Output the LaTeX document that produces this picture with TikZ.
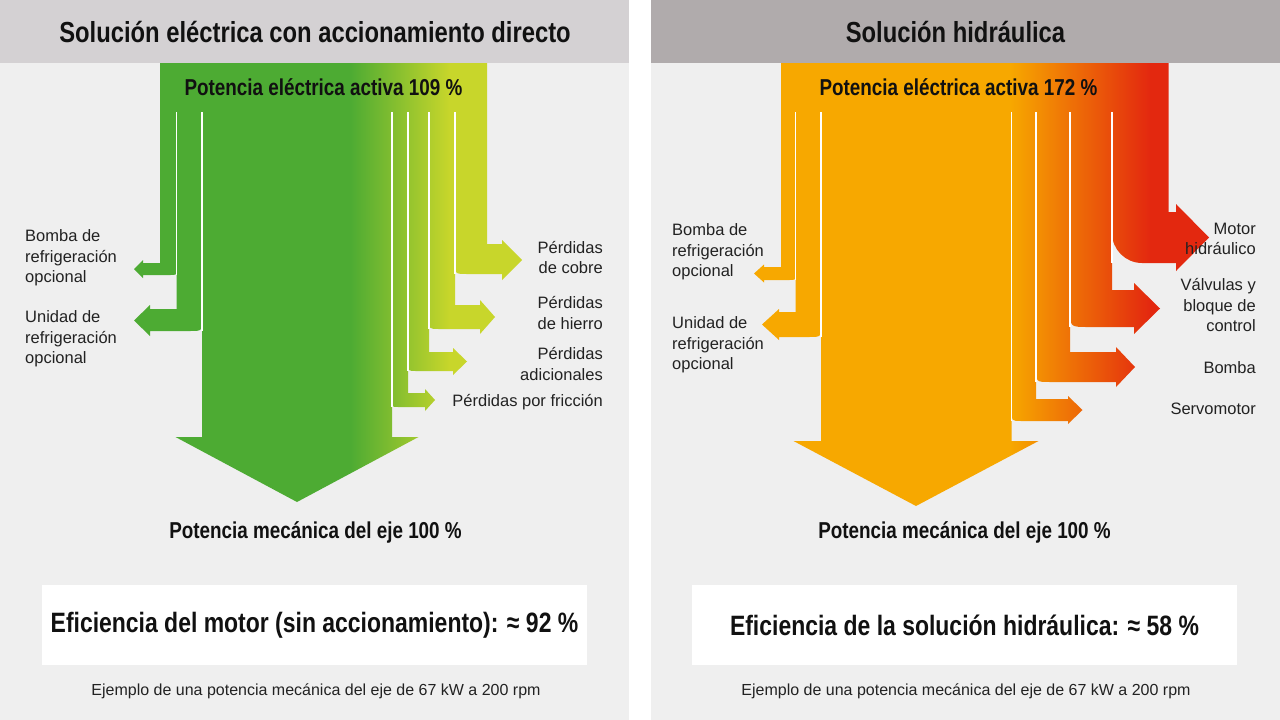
\documentclass[tikz,border=0pt]{standalone}
\usepackage{fontspec}
\setmainfont{Liberation Sans}
\newfontfamily\condfont[FakeStretch=0.82]{Liberation Sans}
\usetikzlibrary{positioning, calc}
\definecolor{panelbg}{HTML}{EFEFEF}
\definecolor{barleft}{HTML}{D4D1D3}
\definecolor{barright}{HTML}{B0ABAC}
\definecolor{flowgreen}{HTML}{4DAB33}
\definecolor{flowyellow}{HTML}{C8D62B}
\definecolor{floworange}{HTML}{F7A800}
\definecolor{flowred}{HTML}{E3280F}
\definecolor{inkdark}{HTML}{111111}
\definecolor{inklabel}{HTML}{222222}

% 100bp wide shadings, middle 25bp..75bp is stretched over the filled box
\pgfdeclarehorizontalshading{greenflow}{100bp}{color(0bp)=(flowgreen); color(50bp)=(flowgreen); color(60bp)=(flowyellow); color(100bp)=(flowyellow)}
\pgfdeclarehorizontalshading{redflow}{100bp}{color(0bp)=(floworange); color(51bp)=(floworange); color(65bp)=(flowred); color(100bp)=(flowred)}

\begin{document}
\begin{tikzpicture}[
    x=1pt, y=-1pt,
    titlelbl/.style={
        font=\condfont\bfseries\fontsize{29}{32}\selectfont, color=inkdark, inner sep=0pt
    },
    flowlbl/.style={
        font=\condfont\bfseries\fontsize{23}{26}\selectfont, color=inkdark, inner sep=0pt
    },
    efflbl/.style={
        font=\condfont\bfseries\fontsize{28}{31}\selectfont, color=inkdark, inner sep=0pt
    },
    sidelbl/.style={
        font=\fontsize{16.5}{20.5}\selectfont, color=inklabel, inner sep=0pt
    },
    notelbl/.style={
        font=\fontsize{16}{18}\selectfont, color=inklabel, inner sep=0pt
    },
    sepline/.style={
        draw=white, line width=1.6pt
    }
]
\useasboundingbox (0,0) rectangle (1280,720);

% Panels and title bars
\fill[white] (0,0) rectangle (1280,720);
\fill[panelbg] (0,0) rectangle (629,720);
\fill[panelbg] (651,0) rectangle (1280,720);
\fill[barleft] (0,0) rectangle (629,63);
\fill[barright] (651,0) rectangle (1280,63);

% -- Left: electric direct drive --
\begin{scope}
    \clip
        % bomba de refrigeracion
        (160,63) -- (176.5,63) -- (176.5,269) .. controls (176.5,275) .. (170.5,275) -- (143,275) -- (143,278) -- (134,269) -- (143,260) -- (143,263) -- (160,263) -- cycle
        % unidad de refrigeracion
        (176.5,63) -- (202,63) -- (202,319) .. controls (202,331) .. (190,331) -- (150,331) -- (150,336) -- (134,320.5) -- (150,305) -- (150,309) -- (176.5,309) -- cycle
        % eje
        (202,63) -- (392,63) -- (392,437) -- (418.5,437) -- (297,502) -- (175.5,437) -- (202,437) -- cycle
        % friccion
        (392,63) -- (408,63) -- (408,393) -- (425,393) -- (425,389) -- (435,400) -- (425,411) -- (425,407) -- (398,407) .. controls (392,407) .. (392,401) -- cycle
        % adicionales
        (408,63) -- (429,63) -- (429,352) -- (453,352) -- (453,348) -- (467,361.5) -- (453,375) -- (453,371) -- (416,371) .. controls (408,371) .. (408,363) -- cycle
        % hierro
        (429,63) -- (455,63) -- (455,305) -- (480,305) -- (480,300) -- (495,317) -- (480,334) -- (480,329) -- (439,329) .. controls (429,329) .. (429,319) -- cycle
        % cobre
        (455,63) -- (487,63) -- (487,244) -- (502,244) -- (502,240) -- (522,260) -- (502,280) -- (502,274) -- (467,274) .. controls (455,274) .. (455,262) -- cycle;
    \shade[shading=greenflow] (100,50) rectangle (600,520);
\end{scope}

% branch separators
\foreach \x/\y in {176.5/275, 202/331, 392/407, 408/371, 429/329, 455/274} {
    \draw[sepline] (\x,112) -- (\x,\y);
}

% -- Right: hydraulic --
\begin{scope}
    \clip
        % bomba de refrigeracion
        (781,63) -- (795.5,63) -- (795.5,274) .. controls (795.5,280) .. (789.5,280) -- (764,280) -- (764,282.5) -- (754,273.5) -- (764,264.5) -- (764,267) -- (781,267) -- cycle
        % unidad de refrigeracion
        (795.5,63) -- (821,63) -- (821,325) .. controls (821,337) .. (809,337) -- (779,337) -- (779,340) -- (762,324.5) -- (779,309) -- (779,312) -- (795.5,312) -- cycle
        % eje
        (821,63) -- (1011.5,63) -- (1011.5,441) -- (1038.5,441) -- (916,506) -- (793.5,441) -- (821,441) -- cycle
        % servomotor
        (1011.5,63) -- (1036,63) -- (1036,399) -- (1068,399) -- (1068,396) -- (1082.5,410) -- (1068,424) -- (1068,421) -- (1021.5,421) .. controls (1011.5,421) .. (1011.5,411) -- cycle
        % bomba
        (1036,63) -- (1070,63) -- (1070,352) -- (1116,352) -- (1116,347) -- (1135,367) -- (1116,387) -- (1116,382) -- (1050,382) .. controls (1036,382) .. (1036,368) -- cycle
        % valvulas
        (1070,63) -- (1112,63) -- (1112,290) -- (1134,290) -- (1134,283) -- (1160,308.5) -- (1134,334) -- (1134,327) -- (1088,327) .. controls (1070,327) .. (1070,309) -- cycle
        % motor hidraulico
        (1112,63) -- (1168.5,63) -- (1168.5,212) -- (1176,212) -- (1176,204) -- (1209,237.5) -- (1176,271) -- (1176,263) -- (1142,263) .. controls (1125.5,263) and (1112,249.5) .. (1112,233) -- cycle;
    \shade[shading=redflow] (750,50) rectangle (1250,520);
\end{scope}

\foreach \x/\y in {795.5/280, 821/337, 1011.5/421, 1036/382, 1070/327, 1112/263} {
    \draw[sepline] (\x,112) -- (\x,\y);
}

% Titles
\node[titlelbl] (titleL) at (315,32) {Solución eléctrica con accionamiento directo};
\node[titlelbl] (titleR) at (955.5,32) {Solución hidráulica};

% In / out labels
\node[flowlbl] (inL) at (323.5,87) {Potencia eléctrica activa 109~\%};
\node[flowlbl] (inR) at (958.5,87) {Potencia eléctrica activa 172~\%};
\node[flowlbl] (outL) at (315.5,532) {Potencia mecánica del eje 100~\%};
\node[flowlbl] (outR) at (964.5,532) {Potencia mecánica del eje 100~\%};

% Losses, left
\node[sidelbl, anchor=west, align=left] (bombaL) at (25,258) {Bomba de\\refrigeración\\opcional};
\node[sidelbl, anchor=west, align=left] (unidadL) at (25,339) {Unidad de\\refrigeración\\opcional};
\node[sidelbl, anchor=east, align=right] (cobre) at (603,257.5) {Pérdidas\\de cobre};
\node[sidelbl, anchor=east, align=right] (hierro) at (603,313) {Pérdidas\\de hierro};
\node[sidelbl, anchor=east, align=right] (adic) at (603,364) {Pérdidas\\adicionales};
\node[sidelbl, anchor=east] (friccion) at (603,402) {Pérdidas por fricción};

% Losses, right
\node[sidelbl, anchor=west, align=left] (bombaR) at (672,252) {Bomba de\\refrigeración\\opcional};
\node[sidelbl, anchor=west, align=left] (unidadR) at (672,345) {Unidad de\\refrigeración\\opcional};
\node[sidelbl, anchor=east, align=right] (motor) at (1256,239) {Motor\\hidráulico};
\node[sidelbl, anchor=east, align=right] (valv) at (1256,305.5) {Válvulas y\\bloque de\\control};
\node[sidelbl, anchor=east] (bomba) at (1256,368) {Bomba};
\node[sidelbl, anchor=east] (servo) at (1256,409) {Servomotor};

% Efficiency boxes
\fill[white] (42,585) rectangle (587,665);
\fill[white] (692,585) rectangle (1237,665);
\node[efflbl] (effL) at (314.5,625) {Eficiencia del motor (sin accionamiento): ≈~92~\%};
\node[efflbl] (effR) at (964.5,625) {Eficiencia de la solución hidráulica: ≈~58~\%};

% Notes
\node[notelbl] (noteL) at (316,691) {Ejemplo de una potencia mecánica del eje de 67 kW a 200 rpm};
\node[notelbl] (noteR) at (966,691) {Ejemplo de una potencia mecánica del eje de 67 kW a 200 rpm};

\end{tikzpicture}
\end{document}
